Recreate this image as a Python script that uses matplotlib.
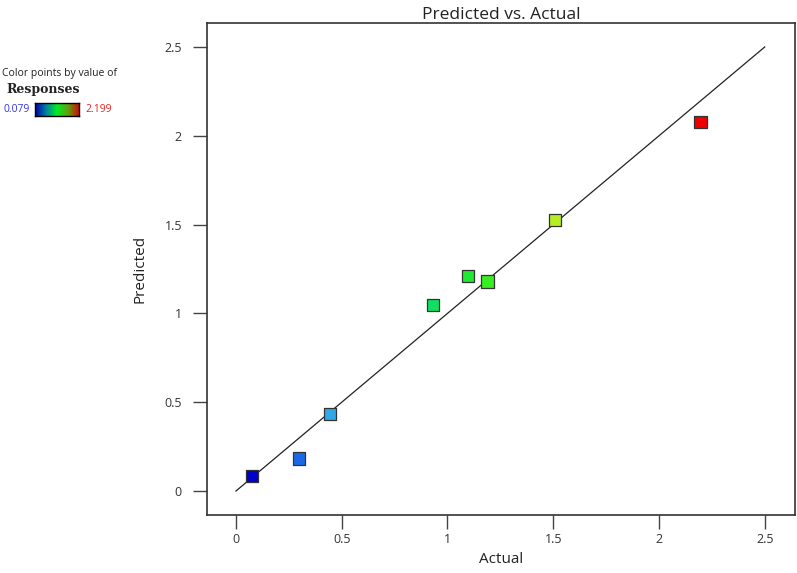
import matplotlib.pyplot as plt
import numpy as np
from matplotlib.colors import LinearSegmentedColormap, Normalize

# values
actual = [0.076, 0.298, 0.444, 0.931, 1.096, 1.19, 1.507, 2.197]
predicted = [0.084, 0.183, 0.434, 1.047, 1.21, 1.18, 1.526, 2.078]
resp_min, resp_max = 0.079, 2.199
ticks = [0, 0.5, 1, 1.5, 2, 2.5]
tick_labels = ["0", "0.5", "1", "1.5", "2", "2.5"]

cmap = LinearSegmentedColormap.from_list(
    "de", [(0.0, "#0000cc"), (0.1, "#1a66e6"), (0.17, "#30a8e8"),
           (0.4, "#10e060"), (0.5, "#22ee22"), (0.68, "#bbee22"),
           (1.0, "#ee0000")])
key_cmap = LinearSegmentedColormap.from_list(
    "key", ["#0000aa", "#0080a0", "#00ee22", "#60a010", "#cc1100"])
norm = Normalize(resp_min, resp_max)

plt.rcParams['font.family'] = ['Open Sans', 'DejaVu Sans']

fig = plt.figure(figsize=(7.97, 5.73), dpi=100)
ax = fig.add_axes([0.2597, 0.1012, 0.7378, 0.8587])

ax.plot([0, 2.5], [0, 2.5], color="#222222", lw=0.9, zorder=1)
ax.scatter(actual, predicted, c=actual, cmap=cmap, norm=norm, marker="s",
           s=80, edgecolors="#333333", linewidths=0.9, zorder=2)

ax.set_xlim(-0.137, 2.643)
ax.set_ylim(-0.135, 2.635)
ax.set_xticks(ticks)
ax.set_xticklabels(tick_labels)
ax.set_yticks(ticks)
ax.set_yticklabels(tick_labels)
ax.tick_params(direction="out", length=10, width=1, color="#444444",
               labelsize=9, labelcolor="#333333")
ax.tick_params(axis="x", pad=3)
ax.tick_params(axis="y", pad=8)
for sp in ax.spines.values():
    sp.set_linewidth(1.2)
    sp.set_color("#333333")

ax.set_title("Predicted vs. Actual", fontsize=12.5, pad=3, color="#222222")
ax.set_xlabel("Actual", fontsize=11, labelpad=4, color="#222222")
ax.set_ylabel("Predicted", fontsize=11, labelpad=12, color="#222222")

# colour key in the top left corner
fig.text(0.002, 0.872, "Color points by value of", fontsize=7.5,
         color="#222222", va="center")
fig.text(0.008, 0.843, "Responses", fontsize=9, family="DejaVu Serif",
         fontweight="bold", color="#222222", va="center")
cax = fig.add_axes([35 / 797, 1 - 116 / 573, 44 / 797, 13 / 573])
cax.imshow(np.linspace(0, 1, 100)[None, :], aspect="auto", cmap=key_cmap)
cax.set_xticks([])
cax.set_yticks([])
for sp in cax.spines.values():
    sp.set_linewidth(1)
fig.text(0.004, 1 - 109 / 573, f"{resp_min}", fontsize=7.5, color="#3333ee",
         va="center")
fig.text(85 / 797, 1 - 109 / 573, f"{resp_max}", fontsize=7.5,
         color="#ee2222", va="center")

fig.savefig("out.png", dpi=100)
